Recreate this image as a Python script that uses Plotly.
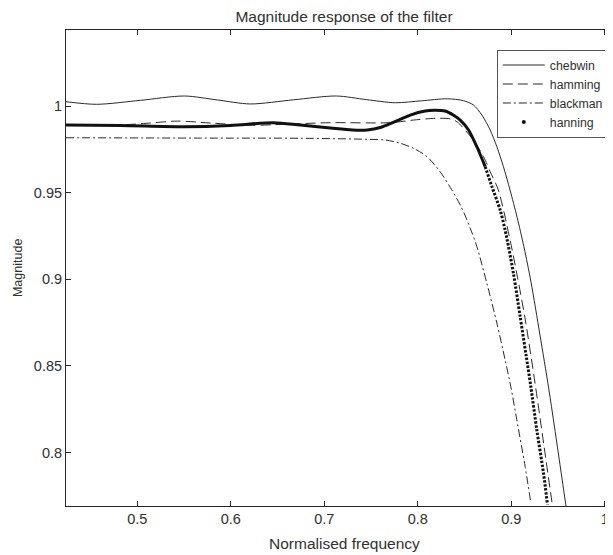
import plotly.graph_objects as go

# ---- data ----
chebwin_f = [0.4237, 0.4565, 0.5035, 0.5505, 0.5858, 0.6210, 0.6670, 0.7129, 0.7450, 0.7759,
             0.8037, 0.8315, 0.8489, 0.8596, 0.8686, 0.8774, 0.8846, 0.8916, 0.8987,
             0.9062, 0.9136, 0.9211, 0.9307, 0.9403, 0.9585]
chebwin_m = [1.0025, 1.0010, 1.0033, 1.0058, 1.0035, 1.0012, 1.0036, 1.0058, 1.0037, 1.0019,
             1.0030, 1.0042, 1.0031, 1.0006, 0.9948, 0.9862, 0.9765, 0.9650, 0.9515,
             0.9359, 0.9186, 0.8984, 0.8678, 0.8361, 0.7691]

hamming_f = [0.4237, 0.4715, 0.5067, 0.5430, 0.5783, 0.6210, 0.6638, 0.7065, 0.7706, 0.7952,
             0.8187, 0.8347, 0.8422, 0.8593, 0.8703, 0.8774, 0.8862, 0.8987, 0.9062, 0.9147,
             0.9254, 0.9350, 0.9441]
hamming_m = [0.9890, 0.9888, 0.9899, 0.9913, 0.9902, 0.9889, 0.9896, 0.9904, 0.9904, 0.9919,
             0.9929, 0.9926, 0.9908, 0.9804, 0.9708, 0.9621, 0.9515, 0.9227, 0.9025, 0.8776,
             0.8401, 0.8038, 0.7691]

blackman_f = [0.4237, 0.5676, 0.6744, 0.7460, 0.7652, 0.7813, 0.7955, 0.8098, 0.8239, 0.8364,
              0.8472, 0.8561, 0.8632, 0.8739, 0.8846, 0.8934, 0.8995, 0.9059, 0.9148, 0.9209]
blackman_m = [0.9817, 0.9815, 0.9814, 0.9808, 0.9804, 0.9785, 0.9756, 0.9708, 0.9621, 0.9516,
              0.9410, 0.9295, 0.9189, 0.8977, 0.8747, 0.8535, 0.8381, 0.8189, 0.7920, 0.7710]

hanning_f = [0.4237, 0.4821, 0.5495, 0.5997, 0.6456, 0.6744, 0.7065, 0.7300, 0.7460, 0.7599,
             0.7738, 0.7920, 0.8080, 0.8175, 0.8293, 0.8379, 0.8454, 0.8543, 0.8632, 0.8721,
             0.8793, 0.8881, 0.8934, 0.9023, 0.9095, 0.9159, 0.9209, 0.9273, 0.9344, 0.9387]
hanning_m = [0.9890, 0.9888, 0.9881, 0.9888, 0.9904, 0.9890, 0.9873, 0.9862, 0.9862, 0.9876,
             0.9906, 0.9948, 0.9971, 0.9975, 0.9971, 0.9948, 0.9919, 0.9862, 0.9765, 0.9650,
             0.9535, 0.9400, 0.9285, 0.9035, 0.8785, 0.8560, 0.8381, 0.8131, 0.7883, 0.7699]

x_ticks = [0.5, 0.6, 0.7, 0.8, 0.9, 1.0]
x_tick_labels = ["0.5", "0.6", "0.7", "0.8", "0.9", "1"]
y_ticks = [0.8, 0.85, 0.9, 0.95, 1.0]
y_tick_labels = ["0.8", "0.85", "0.9", "0.95", "1"]

FONT = "Liberation Sans, Arial, sans-serif"
INK = "#262626"
TXT = "#303030"

fig = go.Figure()
fig.add_trace(go.Scatter(x=chebwin_f, y=chebwin_m, mode="lines", name="chebwin",
                         line=dict(color="#2a2a2a", width=1, shape="spline", smoothing=0.8)))
fig.add_trace(go.Scatter(x=hamming_f, y=hamming_m, mode="lines", name="hamming",
                         line=dict(color="#2a2a2a", width=1, dash="10px,5px",
                                   shape="spline", smoothing=0.8)))
fig.add_trace(go.Scatter(x=blackman_f, y=blackman_m, mode="lines", name="blackman",
                         line=dict(color="#2a2a2a", width=1, dash="8px,3px,2px,3px",
                                   shape="spline", smoothing=0.8)))
# hanning: dense dot samples -> thick solid where flat, visibly dotted on the steep part
k = hanning_f.index(0.8721)
fig.add_trace(go.Scatter(x=hanning_f[:k + 1], y=hanning_m[:k + 1], mode="lines",
                         showlegend=False,
                         line=dict(color="#111111", width=3, shape="spline", smoothing=0.8)))
fig.add_trace(go.Scatter(x=hanning_f[k:], y=hanning_m[k:], mode="lines",
                         showlegend=False,
                         line=dict(color="#111111", width=3, dash="2.4px,1.6px",
                                   shape="spline", smoothing=0.8)))
fig.add_trace(go.Scatter(x=[None], y=[None], mode="markers", name="hanning",
                         marker=dict(color="#111111", size=4)))

# the page puts the figure 8px in from the top-left corner of the window
OFF = 8
W, H = 613 - OFF, 555 - OFF
L = 65.5 - OFF
T = 30 - OFF
B = H - (506 - OFF)
pw = W - L
ph = H - T - B


def px_x(sx):
    return (sx - OFF - L) / pw


def px_y(sy):
    return (H - B - (sy - OFF)) / ph


fig.update_layout(
    width=W, height=H,
    margin=dict(l=L, r=0, t=T, b=B, autoexpand=False),
    paper_bgcolor="white", plot_bgcolor="white",
    font=dict(family=FONT, color=TXT, size=14.5),
    title=dict(text="Magnitude response of the filter", x=(344 - OFF) / W, xref="container",
               xanchor="center", y=1 - (17 - OFF) / H, yref="container", yanchor="middle",
               font=dict(size=15.5, color=TXT)),
    legend=dict(x=px_x(496.7), y=px_y(49.5), xanchor="left", yanchor="top",
                bgcolor="white", bordercolor="#555555", borderwidth=1,
                font=dict(size=12.3, color=TXT), itemwidth=42,
                tracegroupgap=0),
    xaxis=dict(range=[0.4238, 1.0088], tickvals=x_ticks, ticktext=x_tick_labels,
               showgrid=False, zeroline=False, showline=True, linecolor=INK, linewidth=1,
               ticks="inside", ticklen=5, tickcolor=INK, mirror="ticks"),
    yaxis=dict(range=[0.7691, 1.0439], tickvals=y_ticks, ticktext=y_tick_labels,
               showgrid=False, zeroline=False, showline=True, linecolor=INK, linewidth=1,
               ticks="inside", ticklen=5, tickcolor=INK, mirror=False),
    annotations=[
        dict(text="Normalised frequency", xref="paper", yref="paper",
             x=px_x(344.5), y=px_y(543), xanchor="center", yanchor="middle",
             showarrow=False, font=dict(size=15.5, color=TXT)),
        dict(text="Magnitude", xref="paper", yref="paper",
             x=px_x(17), y=px_y(268.5), xanchor="center", yanchor="middle",
             textangle=-90, showarrow=False, font=dict(size=12.5, color=TXT)),
    ],
)

fig.write_html("out.html")
